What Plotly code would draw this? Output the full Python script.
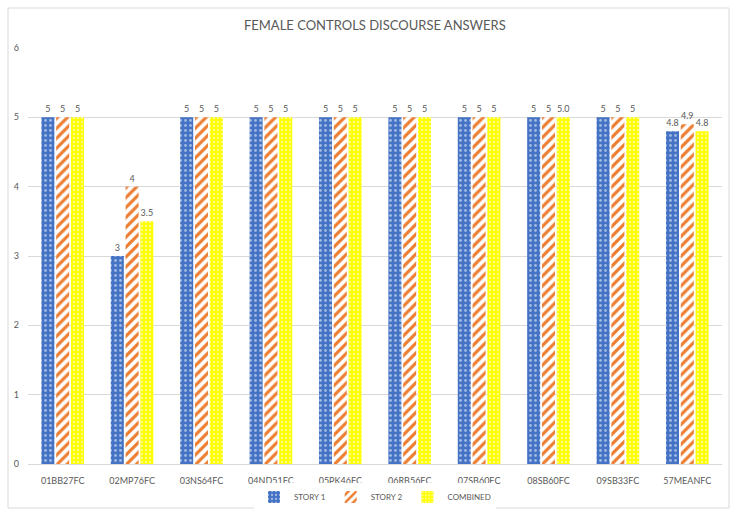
import plotly.graph_objects as go

subjects = ["01BB27FC", "02MP76FC", "03NS64FC", "04ND51FC", "05PK46FC",
            "06RB56FC", "07SB60FC", "08SB60FC", "09SB33FC", "57MEANFC"]
story1 = [5, 3, 5, 5, 5, 5, 5, 5, 5, 4.8]
story2 = [5, 4, 5, 5, 5, 5, 5, 5, 5, 4.9]
combined = [5, 3.5, 5, 5, 5, 5, 5, 5.0, 5, 4.8]
story1_labels = ["5", "3", "5", "5", "5", "5", "5", "5", "5", "4.8"]
story2_labels = ["5", "4", "5", "5", "5", "5", "5", "5", "5", "4.9"]
combined_labels = ["5", "3.5", "5", "5", "5", "5", "5", "5.0", "5", "4.8"]
y_ticks = [0, 1, 2, 3, 4, 5, 6]

W, H = 735, 512
ML, MR, MT, MB = 28, 13, 48, 48
GRAY = "#595959"
FONT = "Lato"

fig = go.Figure()

series = [
    ("STORY 1", story1, story1_labels, dict(color="#4472c4", pattern=dict(shape=".", fgcolor="#ffffff", size=5, solidity=0.25, fillmode="overlay"))),
    ("STORY 2", story2, story2_labels, dict(color="#ffffff", pattern=dict(shape="/", fgcolor="#ed7d31", bgcolor="#ffffff", size=7, solidity=0.45, fillmode="replace"))),
    ("COMBINED", combined, combined_labels, dict(color="#ffff00", pattern=dict(shape=".", fgcolor="#ffffff", size=4, solidity=0.3, fillmode="overlay"))),
]

for name, vals, labels, marker in series:
    fig.add_trace(go.Bar(
        name=name, x=subjects, y=vals, text=labels,
        textposition="outside", cliponaxis=False,
        textfont=dict(size=9, color=GRAY, family=FONT),
        marker=dict(line=dict(width=0), **marker),
    ))

# outer chart border
pw, ph = W - ML - MR, H - MT - MB
def px(x):
    return (x - ML) / pw
def py(y):
    return (H - MB - y) / ph
fig.add_shape(type="rect", xref="paper", yref="paper",
              x0=px(8), x1=px(729), y0=py(8), y1=py(508),
              line=dict(color="#d9d9d9", width=1), layer="below")

fig.update_layout(
    width=W, height=H,
    margin=dict(l=ML, r=MR, t=MT, b=MB, autoexpand=False),
    paper_bgcolor="white", plot_bgcolor="white",
    barmode="group", bargap=0.36, bargroupgap=0.12,
    title=dict(text="FEMALE CONTROLS DISCOURSE ANSWERS", x=0.51, xanchor="center",
               y=1 - 25 / H, yanchor="middle",
               font=dict(size=13, color=GRAY, family=FONT)),
    font=dict(family=FONT, color=GRAY),
    showlegend=True,
    legend=dict(orientation="h", x=0.5, xanchor="center",
                yref="container", y=(H - 497) / H, yanchor="middle",
                font=dict(size=8, color=GRAY, family=FONT),
                itemwidth=30, traceorder="normal"),
    xaxis=dict(showgrid=False, showline=True, linecolor="#d9d9d9", linewidth=1,
               ticks="", tickfont=dict(size=9, color=GRAY, family=FONT),
               ticklabelstandoff=8),
    yaxis=dict(range=[0, 6], tickvals=y_ticks, showgrid=True, gridcolor="#d9d9d9",
               gridwidth=1, zeroline=False, showline=False,
               tickfont=dict(size=9, color=GRAY, family=FONT), ticklabelstandoff=8),
)

fig.write_html("out.html")
